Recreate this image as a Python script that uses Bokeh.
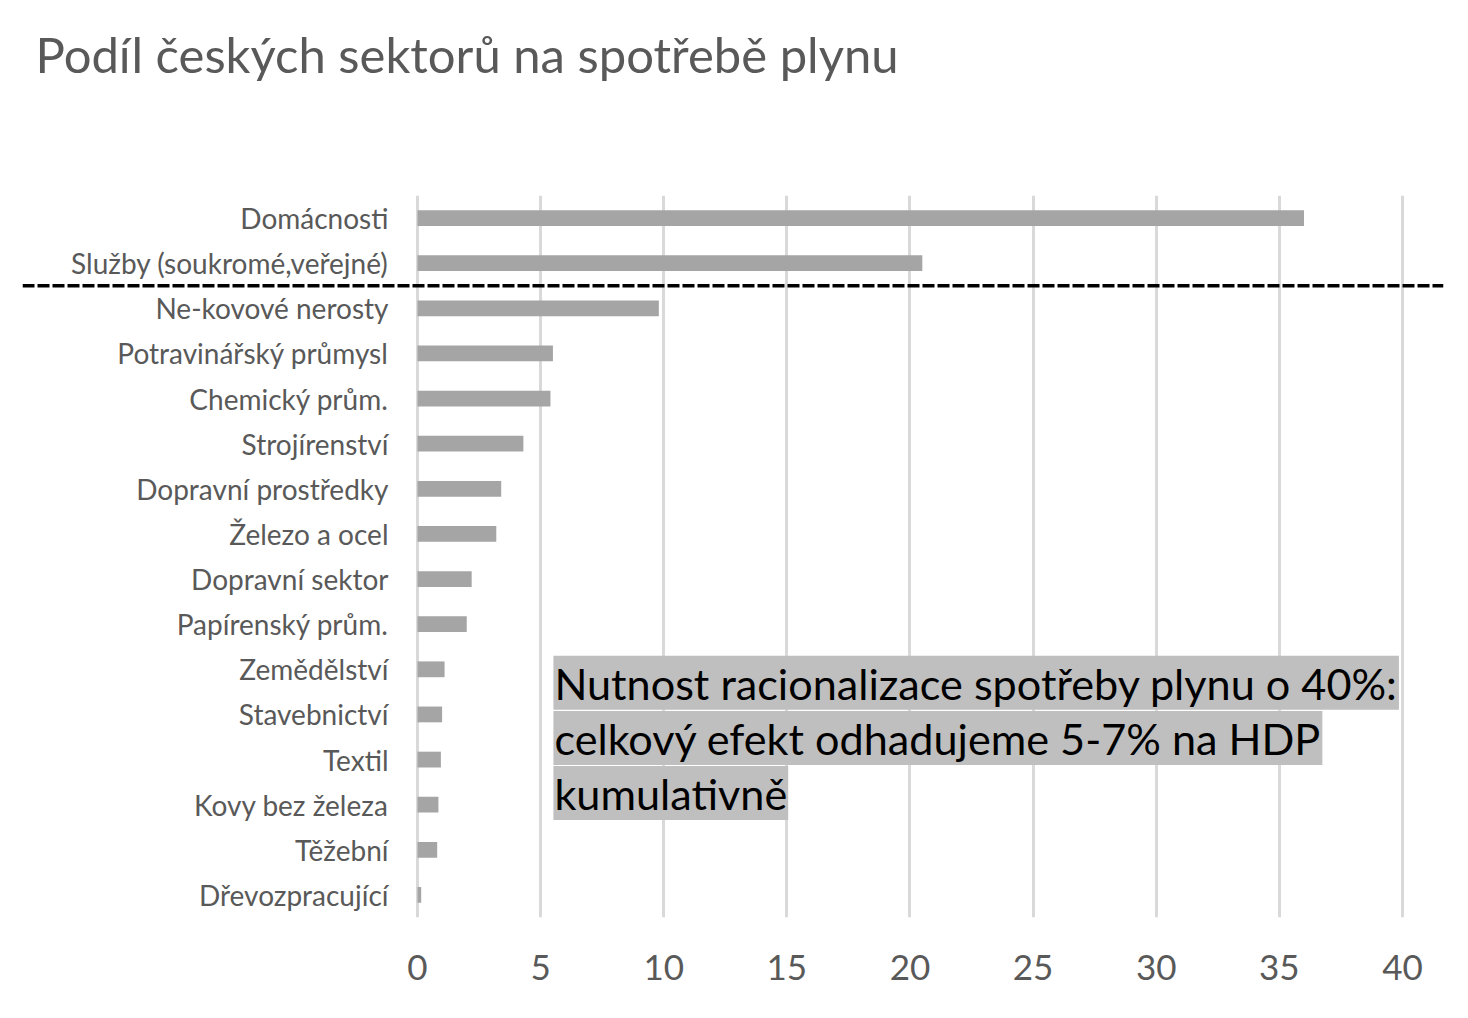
from bokeh.plotting import figure
from bokeh.models import FactorRange, Range1d, FixedTicker, Span, Label, Title
from bokeh.core.properties import value
from bokeh.embed import file_html
from bokeh.resources import INLINE

title = "Podíl českých sektorů na spotřebě plynu"
sectors = [
    "Domácnosti", "Služby (soukromé,veřejné)", "Ne-kovové nerosty",
    "Potravinářský průmysl", "Chemický prům.", "Strojírenství",
    "Dopravní prostředky", "Železo a ocel", "Dopravní sektor",
    "Papírenský prům.", "Zemědělství", "Stavebnictví", "Textil",
    "Kovy bez železa", "Těžební", "Dřevozpracující",
]
shares = [36.0, 20.5, 9.8, 5.5, 5.4, 4.3, 3.4, 3.2, 2.2, 2.0,
          1.1, 1.0, 0.95, 0.85, 0.8, 0.15]
x_ticks = [0, 5, 10, 15, 20, 25, 30, 35, 40]
note_lines = [
    "Nutnost racionalizace spotřeby plynu o 40%:",
    "celkový efekt odhadujeme 5-7% na HDP",
    "kumulativně",
]

FONT = "Lato"
GREY_TXT = "#595959"

factors = list(reversed(sectors))
p = figure(
    width=1452, height=1000,
    y_range=FactorRange(factors=factors, range_padding=0),
    x_range=Range1d(-16.04, 41.665),
    output_backend="svg", toolbar_location=None,
    min_border_left=22, min_border_right=9, min_border_bottom=83,
    min_border_top=0,
)
p.outline_line_color = None
p.background_fill_color = "white"

# spacer (closest to frame), then the visible title above it
p.add_layout(Title(text=" ", text_font_size="10px", standoff=74), "above")
p.add_layout(Title(text=title, text_font=FONT, text_font_size="49px",
                   text_font_style="normal", text_color=GREY_TXT,
                   align="left", offset=13, vertical_align="top",
                   standoff=48), "above")

p.hbar(y=sectors, right=shares, left=0, height=0.35,
       fill_color="#a5a5a5", line_color=None)

p.text(x=[0] * len(sectors), y=sectors, text=sectors, x_offset=-29,
       text_align="right", text_baseline="middle",
       text_font=value(FONT), text_font_size="28px", text_color=GREY_TXT)

p.yaxis.visible = False
p.ygrid.grid_line_color = None
p.xaxis.ticker = FixedTicker(ticks=x_ticks)
p.xgrid.ticker = FixedTicker(ticks=x_ticks)
p.xgrid.grid_line_color = "#d9d9d9"
p.xgrid.grid_line_width = 3
p.xaxis.axis_line_color = None
p.xaxis.major_tick_line_color = None
p.xaxis.minor_tick_line_color = None
p.xaxis.major_label_text_font = FONT
p.xaxis.major_label_text_font_size = "35px"
p.xaxis.major_label_text_color = GREY_TXT
p.xaxis.major_label_standoff = 31

p.add_layout(Span(location=14, dimension="width", line_color="black",
                  line_width=3.5, line_dash="12 3"))

ys = [5.2, 3.98, 2.76]
for t, yy in zip(note_lines, ys):
    p.add_layout(Label(x=5.52, y=yy, text=t, text_font=FONT,
                       text_font_size="43.2px", text_color="black",
                       text_baseline="middle", text_align="left",
                       background_fill_color="#bfbfbf", padding=1))

open("out.html", "w").write(file_html(p, INLINE))
